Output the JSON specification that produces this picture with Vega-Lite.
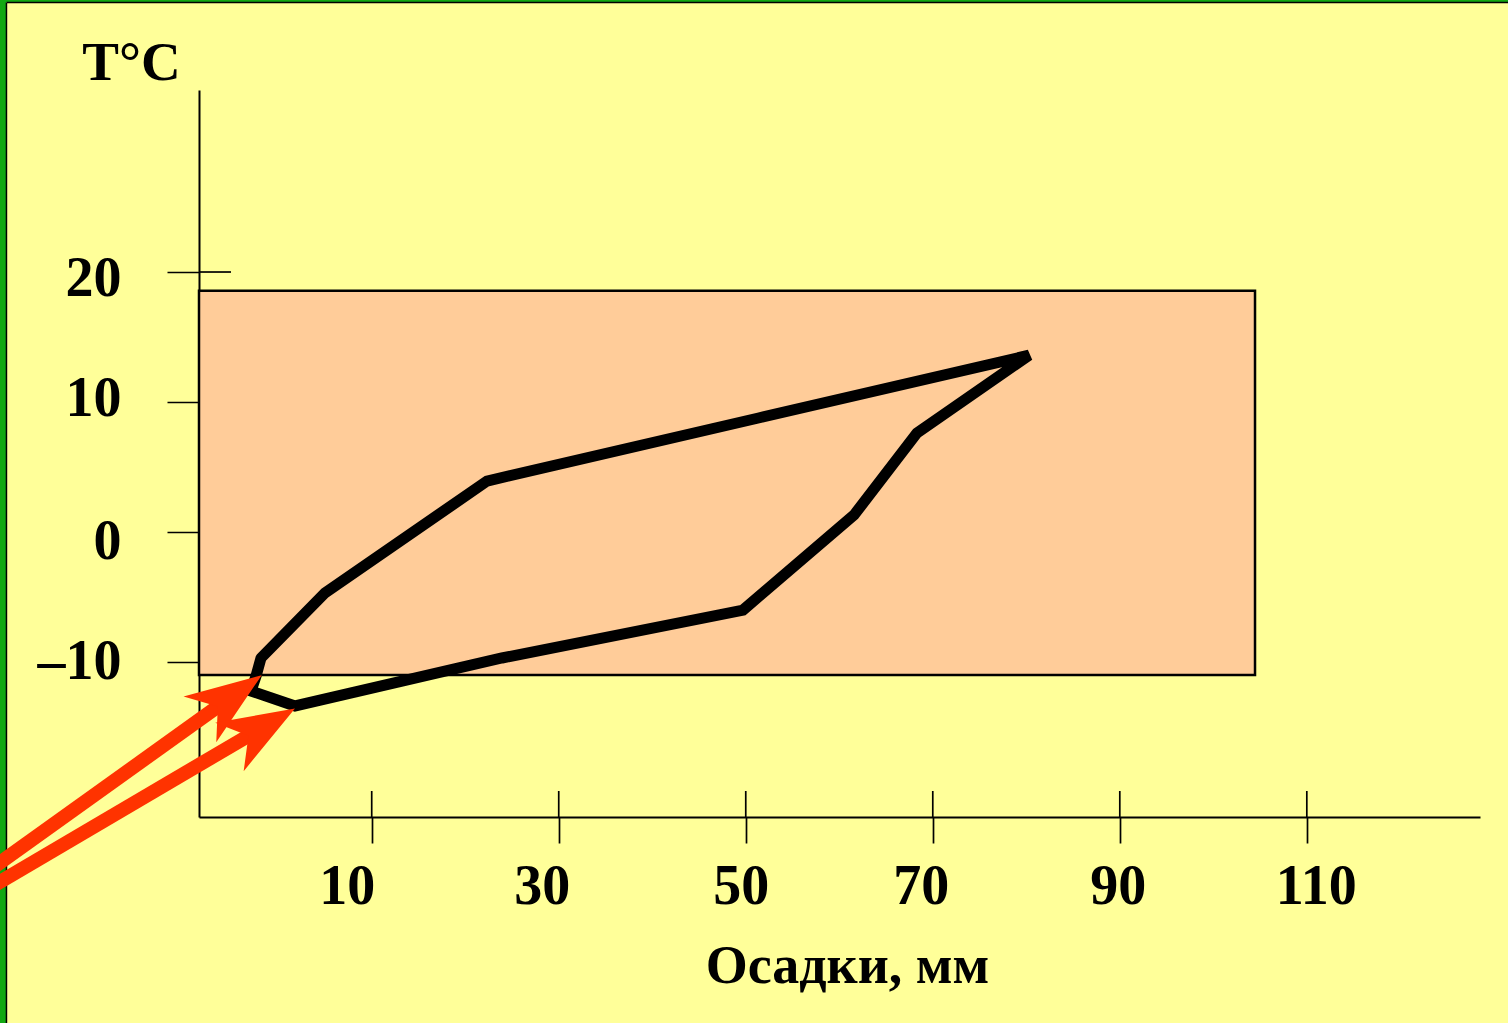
{
  "$schema": "https://vega.github.io/schema/vega-lite/v6.json",
  "width": 1281,
  "height": 727,
  "autosize": {"type": "none"},
  "padding": {"left": 199, "top": 90, "right": 28, "bottom": 206},
  "background": "#FFFF99",
  "config": {"view": {"stroke": null}, "font": "Liberation Serif"},
  "datasets": {
    "box": [{"p_min": -8.47, "p_max": 104.46, "t_min": -11.0, "t_max": 18.56}],
    "climate": [
      {"step": 1, "precip": -1.84, "temp": -9.69},
      {"step": 2, "precip": 5.0, "temp": -4.69},
      {"step": 3, "precip": 22.33, "temp": 3.92},
      {"step": 4, "precip": 51.36, "temp": 8.77},
      {"step": 5, "precip": 80.3, "temp": 13.6},
      {"step": 6, "precip": 68.31, "temp": 7.62},
      {"step": 7, "precip": 61.58, "temp": 1.31},
      {"step": 8, "precip": 49.71, "temp": -6.0},
      {"step": 9, "precip": 23.93, "temp": -9.69},
      {"step": 10, "precip": 1.8, "temp": -13.38},
      {"step": 11, "precip": -2.91, "temp": -12.23},
      {"step": 12, "precip": -2.37, "temp": -11.08},
      {"step": 13, "precip": -1.84, "temp": -9.69}
    ],
    "xticks": [{"v": 10}, {"v": 30}, {"v": 50}, {"v": 70}, {"v": 90}, {"v": 110}],
    "shafts": [
      {"arrow": "a", "pt": 1, "x": -31.35, "y": -26.26},
      {"arrow": "a", "pt": 2, "x": -5.07, "y": -12.71},
      {"arrow": "b", "pt": 1, "x": -31.35, "y": -27.58},
      {"arrow": "b", "pt": 2, "x": -1.71, "y": -15.05}
    ],
    "heads": [
      {"arrow": "a", "x": -5.07, "y": -12.71},
      {"arrow": "b", "x": -1.71, "y": -15.05}
    ]
  },
  "layer": [
    {
      "data": {"name": "box"},
      "mark": {"type": "rect", "fill": "#FFCC99", "stroke": "black", "strokeWidth": 2.5},
      "encoding": {
        "x": {
          "field": "p_min", "type": "quantitative",
          "scale": {"domain": [-8.47, 128.52], "nice": false, "zero": false},
          "axis": {
            "values": [10, 30, 50, 70, 90, 110],
            "title": "Осадки, мм",
            "grid": false,
            "domainColor": "black", "domainWidth": 2,
            "tickColor": "black", "tickWidth": 1.7, "tickSize": 26,
            "labelFont": "Liberation Serif", "labelFontSize": 56, "labelFontWeight": "bold", "labelColor": "black",
            "labelBaseline": "alphabetic", "labelPadding": 60,
            "labelOffset": {"expr": "datum.value == 10 ? -25 : datum.value == 30 ? -17 : datum.value == 50 ? -5 : datum.value == 70 ? -12 : datum.value == 90 ? -2 : 9"},
            "labelFlush": false, "labelOverlap": false,
            "titleFont": "Liberation Serif", "titleFontSize": 54, "titleFontWeight": "bold", "titleColor": "black",
            "titleX": 648, "titleY": 165, "titleAlign": "center", "titleBaseline": "alphabetic"
          }
        },
        "x2": {"field": "p_max"},
        "y": {
          "field": "t_min", "type": "quantitative",
          "scale": {"domain": [-21.92, 34.0], "nice": false, "zero": false},
          "axis": {
            "values": [-10, 0, 10, 20],
            "title": "T°C",
            "grid": false,
            "domainColor": "black", "domainWidth": 2,
            "tickColor": "black", "tickWidth": 1.7, "tickSize": 32,
            "labelFont": "Liberation Serif", "labelFontSize": 56, "labelFontWeight": "bold", "labelColor": "black",
            "labelBaseline": "alphabetic", "labelPadding": 46,
            "labelOffset": {"expr": "datum.value == 20 ? 23 : datum.value == 10 ? 13 : datum.value == 0 ? 26 : 16"},
            "labelExpr": "datum.value < 0 ? '–' + (-datum.value) : '' + datum.value",
            "labelFlush": false, "labelOverlap": false,
            "titleFont": "Liberation Serif", "titleFontSize": 55, "titleFontWeight": "bold", "titleColor": "black",
            "titleAngle": 0, "titleX": -68, "titleY": -11, "titleAlign": "center", "titleBaseline": "alphabetic"
          }
        },
        "y2": {"field": "t_max"}
      }
    },
    {
      "data": {"name": "xticks"},
      "mark": {"type": "rule", "color": "black", "strokeWidth": 1.7},
      "encoding": {
        "x": {"field": "v", "type": "quantitative"},
        "y": {"datum": -21.92},
        "y2": {"datum": -19.92}
      }
    },
    {
      "data": {"values": [{"t": 20}]},
      "mark": {"type": "rule", "color": "black", "strokeWidth": 1.7},
      "encoding": {
        "y": {"field": "t", "type": "quantitative"},
        "x": {"datum": -8.47},
        "x2": {"datum": -5.05}
      }
    },
    {
      "data": {"name": "climate"},
      "mark": {"type": "line", "color": "black", "strokeWidth": 11, "strokeJoin": "miter", "strokeCap": "round"},
      "encoding": {
        "x": {"field": "precip", "type": "quantitative"},
        "y": {"field": "temp", "type": "quantitative"},
        "order": {"field": "step", "type": "quantitative"}
      }
    },
    {
      "data": {"values": [{"k": "g"}]},
      "mark": {"type": "rule", "color": "#12A812", "strokeWidth": 6},
      "encoding": {"x": {"datum": -29.43}, "y": {"datum": 45}, "y2": {"datum": -45}}
    },
    {
      "data": {"values": [{"k": "b"}]},
      "mark": {"type": "rule", "color": "black", "strokeWidth": 1.5},
      "encoding": {"x": {"datum": -29.06}, "y": {"datum": 40.73}, "y2": {"datum": -45}}
    },
    {
      "data": {"values": [{"k": "g"}]},
      "mark": {"type": "rule", "color": "#12A812", "strokeWidth": 2.2},
      "encoding": {"y": {"datum": 40.85}, "x": {"datum": -35}, "x2": {"datum": 140}}
    },
    {
      "data": {"values": [{"k": "b"}]},
      "mark": {"type": "rule", "color": "black", "strokeWidth": 1.3},
      "encoding": {"y": {"datum": 40.73}, "x": {"datum": -29.06}, "x2": {"datum": 140}}
    },
    {
      "data": {"name": "shafts"},
      "mark": {"type": "line", "color": "#FF3300", "strokeWidth": 14, "strokeCap": "butt"},
      "encoding": {
        "x": {"field": "x", "type": "quantitative"},
        "y": {"field": "y", "type": "quantitative"},
        "detail": {"field": "arrow"},
        "order": {"field": "pt", "type": "quantitative"}
      }
    },
    {
      "data": {"name": "heads"},
      "transform": [{"filter": "datum.arrow == 'a'"}],
      "mark": {"type": "point", "shape": "M 1 0 L -1 -0.74 L -0.42 0 L -1 0.74 Z", "size": 5776, "angle": 324.4, "filled": true, "color": "#FF3300", "opacity": 1, "strokeWidth": 0},
      "encoding": {
        "x": {"field": "x", "type": "quantitative"},
        "y": {"field": "y", "type": "quantitative"}
      }
    },
    {
      "data": {"name": "heads"},
      "transform": [{"filter": "datum.arrow == 'b'"}],
      "mark": {"type": "point", "shape": "M 1 0 L -1 -0.74 L -0.42 0 L -1 0.74 Z", "size": 5776, "angle": 329.6, "filled": true, "color": "#FF3300", "opacity": 1, "strokeWidth": 0},
      "encoding": {
        "x": {"field": "x", "type": "quantitative"},
        "y": {"field": "y", "type": "quantitative"}
      }
    }
  ]
}
